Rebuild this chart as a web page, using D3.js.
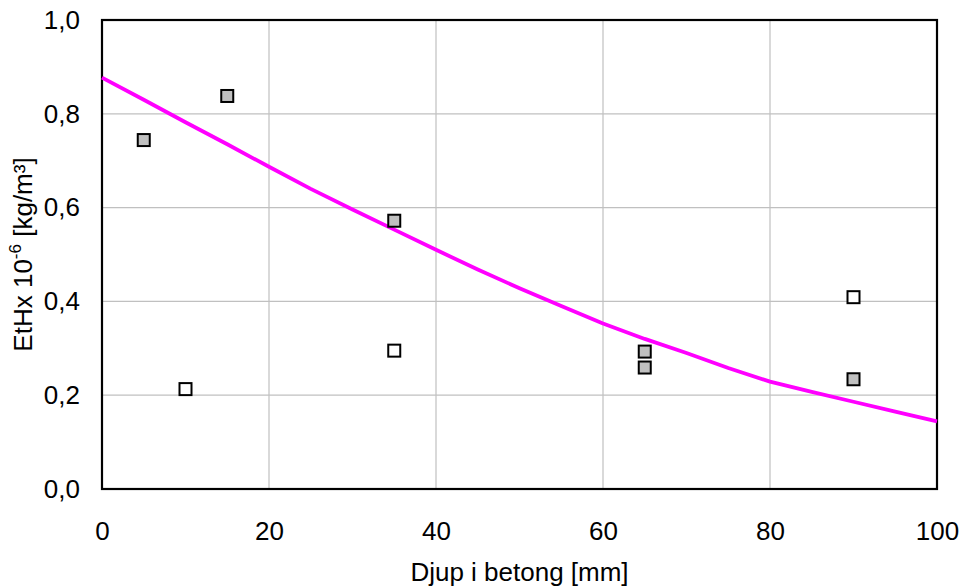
<!DOCTYPE html>
<html><head><meta charset="utf-8">
<script src="https://cdn.jsdelivr.net/npm/d3@7"></script>
<style>body{margin:0;background:#fff}svg{display:block;font-family:"Liberation Sans",Arial,sans-serif}</style>
</head><body>
<svg id="c" width="965" height="588"></svg>
<script>
const xTicks = [0, 20, 40, 60, 80, 100];
const yTicks = [0, 0.2, 0.4, 0.6, 0.8, 1.0];
const grayX = [5, 15, 35, 65, 65, 90];
const grayY = [0.744, 0.838, 0.572, 0.293, 0.259, 0.234];
const whiteX = [10, 35, 90];
const whiteY = [0.213, 0.295, 0.409];
const lineX = [0, 5, 10, 15, 20, 25, 30, 35, 40, 45, 50, 55, 60, 65, 70, 75, 80, 85, 90, 95, 100];
const lineY = [0.877, 0.83, 0.782, 0.735, 0.687, 0.64, 0.596, 0.553, 0.51, 0.468, 0.428, 0.39, 0.353, 0.32, 0.29, 0.258, 0.229, 0.207, 0.186, 0.165, 0.144];

const svg = d3.select("#c");
const L = 102, R = 937, T = 20, B = 489;
const x = d3.scaleLinear().domain([0, 100]).range([L, R]);
const y = d3.scaleLinear().domain([0, 1]).range([B, T]);
const fmt = d => d3.format(".1f")(d).replace(".", ",");
const FS = 26;

// grid
svg.append("g").selectAll("line.v").data(xTicks.slice(1, -1)).join("line")
  .attr("x1", d => x(d)).attr("x2", d => x(d)).attr("y1", T).attr("y2", B)
  .attr("stroke", "#c0c0c0").attr("stroke-width", 1.2);
svg.append("g").selectAll("line.h").data(yTicks.slice(1, -1)).join("line")
  .attr("x1", L).attr("x2", R).attr("y1", d => y(d)).attr("y2", d => y(d))
  .attr("stroke", "#c0c0c0").attr("stroke-width", 1.2);

// axes labels via d3 axes
const xa = svg.append("g").attr("transform", `translate(0,${B})`)
  .call(d3.axisBottom(x).tickValues(xTicks).tickSize(0).tickFormat(d3.format("d")));
xa.select(".domain").remove();
xa.selectAll("text").attr("font-size", FS).attr("font-family", "Liberation Sans, Arial, sans-serif").attr("fill", "#000").attr("dy", 0).attr("y", 51);
const ya = svg.append("g").attr("transform", `translate(${L},0)`)
  .call(d3.axisLeft(y).tickValues(yTicks).tickSize(0).tickPadding(22).tickFormat(fmt));
ya.select(".domain").remove();
ya.selectAll("text").attr("font-size", FS).attr("font-family", "Liberation Sans, Arial, sans-serif").attr("fill", "#000");

// plot border
svg.append("rect").attr("x", L).attr("y", T).attr("width", R - L).attr("height", B - T)
  .attr("fill", "none").attr("stroke", "#000").attr("stroke-width", 2.2);

// line
const lineData = lineX.map((v, i) => [v, lineY[i]]);
svg.append("path").datum(lineData)
  .attr("d", d3.line().x(d => x(d[0])).y(d => y(d[1])))
  .attr("fill", "none").attr("stroke", "#ff00ff").attr("stroke-width", 3.8).attr("stroke-linejoin", "round");

// markers
const s = 12;
function markers(xs, ys, fill) {
  svg.append("g").selectAll("rect").data(xs.map((v, i) => [v, ys[i]])).join("rect")
    .attr("x", d => x(d[0]) - s / 2).attr("y", d => y(d[1]) - s / 2)
    .attr("width", s).attr("height", s)
    .attr("fill", fill).attr("stroke", "#000").attr("stroke-width", 2);
}
markers(grayX, grayY, "#c0c0c0");
markers(whiteX, whiteY, "#ffffff");

// titles
svg.append("text").attr("x", (L + R) / 2).attr("y", 581).attr("text-anchor", "middle")
  .attr("font-size", FS).text("Djup i betong [mm]");
const yt = svg.append("text").attr("transform", `translate(32,${(T + B) / 2}) rotate(-90)`)
  .attr("text-anchor", "middle").attr("font-size", FS);
yt.append("tspan").text("EtHx 10");
yt.append("tspan").attr("font-size", 17).attr("dy", -11).text("-6");
yt.append("tspan").attr("dy", 11).text(" [kg/m³]");
</script>
</body></html>
